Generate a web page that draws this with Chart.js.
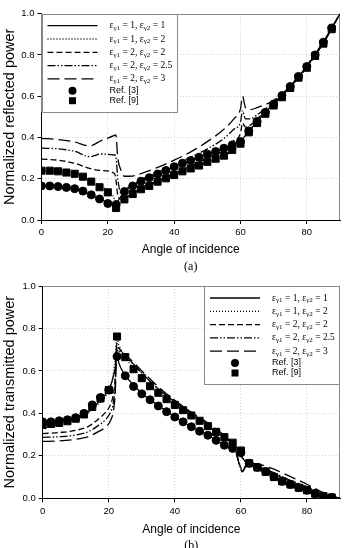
<!DOCTYPE html>
<html>
<head>
<meta charset="utf-8">
<script src="https://cdn.jsdelivr.net/npm/chart.js@4/dist/chart.umd.min.js"></script>
<style>
body{margin:0;background:#fff;width:346px;height:548px;overflow:hidden}
canvas{display:block}
</style>
</head>
<body>
<canvas id="chartA" width="346" height="274"></canvas>
<canvas id="chartB" width="346" height="274"></canvas>
<script>
// legend values for the five computed curves
const eps1 = ['1', '1', '2', '2', '2'];
const eps2 = ['1', '2', '2', '2.5', '3'];
const refNames = ['Ref. [3]', 'Ref. [9]'];
const xTicks = [0, 20, 40, 60, 80];
const yTicks = [0, 0.2, 0.4, 0.6, 0.8, 1.0];

// reference points (every 2.5 deg)
const refAngles = [0,2.5,5,7.5,10,12.5,15,17.5,20,22.5,25,27.5,30,32.5,35,37.5,40,42.5,45,47.5,50,52.5,55,57.5,60,62.5,65,67.5,70,72.5,75,77.5,80,82.5,85,87.5];
const reflRef3 = [0.165,0.165,0.162,0.158,0.152,0.14,0.122,0.102,0.08,0.075,0.138,0.165,0.188,0.205,0.223,0.24,0.258,0.275,0.288,0.304,0.319,0.332,0.348,0.364,0.38,0.432,0.478,0.522,0.562,0.603,0.647,0.696,0.744,0.80,0.862,0.931];
const reflRef9 = [0.239,0.239,0.236,0.23,0.224,0.21,0.186,0.159,0.134,0.058,0.10,0.126,0.149,0.165,0.186,0.202,0.218,0.236,0.25,0.264,0.282,0.297,0.312,0.34,0.37,0.425,0.47,0.515,0.555,0.595,0.64,0.69,0.738,0.795,0.855,0.925];
const transRef3 = [0.36,0.36,0.365,0.37,0.38,0.40,0.44,0.475,0.51,0.668,0.577,0.527,0.492,0.464,0.435,0.408,0.383,0.36,0.337,0.316,0.297,0.273,0.25,0.235,0.215,0.165,0.146,0.126,0.102,0.08,0.065,0.05,0.038,0.022,0.01,0.004];
const transRef9 = [0.345,0.35,0.355,0.363,0.375,0.395,0.43,0.47,0.51,0.762,0.665,0.608,0.566,0.528,0.497,0.467,0.44,0.415,0.39,0.365,0.34,0.313,0.288,0.262,0.225,0.165,0.145,0.125,0.1,0.08,0.065,0.05,0.038,0.022,0.01,0.004];

// computed curves, reflected power
const reflAngles = [0,5,10,14.5,18,22,22.4,23,24,25,27.5,30,35,40,45,50,55,58,60,60.6,61.5,63,65,70,75,80,85,90];
const reflE11 = [0.165,0.162,0.15,0.125,0.098,0.07,0.065,0.09,0.115,0.135,0.163,0.186,0.222,0.258,0.288,0.318,0.348,0.367,0.38,0.392,0.41,0.44,0.478,0.565,0.645,0.745,0.86,1.0];
const reflE12 = [0.239,0.236,0.225,0.195,0.16,0.1,0.06,0.07,0.085,0.1,0.126,0.149,0.186,0.218,0.25,0.28,0.31,0.34,0.37,0.39,0.41,0.44,0.475,0.56,0.64,0.74,0.855,1.0];
const reflE22 = [0.295,0.29,0.275,0.25,0.24,0.225,0.2,0.12,0.1,0.105,0.13,0.155,0.19,0.225,0.262,0.3,0.34,0.385,0.42,0.47,0.45,0.46,0.49,0.565,0.645,0.745,0.86,1.0];
const reflE225 = [0.348,0.345,0.333,0.307,0.32,0.315,0.31,0.2,0.13,0.145,0.17,0.195,0.232,0.268,0.305,0.345,0.395,0.44,0.475,0.53,0.49,0.49,0.51,0.57,0.645,0.745,0.86,1.0];
const reflE23 = [0.396,0.39,0.378,0.359,0.385,0.41,0.413,0.3,0.24,0.212,0.213,0.225,0.255,0.29,0.33,0.38,0.44,0.49,0.54,0.6,0.545,0.535,0.545,0.58,0.65,0.75,0.865,1.0];

// computed curves, transmitted power
const transAngles = [0,5,10,14,17,19,20.5,21.5,22,22.4,23,25,30,35,40,45,50,55,58,60.5,61.5,63,65,70,75,80,85,90];
const transE11 = [0.36,0.365,0.38,0.41,0.455,0.49,0.53,0.58,0.62,0.69,0.64,0.58,0.495,0.437,0.383,0.337,0.297,0.25,0.225,0.19,0.17,0.158,0.146,0.102,0.065,0.038,0.01,0];
const transE12 = [0.345,0.355,0.375,0.405,0.445,0.48,0.52,0.6,0.67,0.755,0.725,0.665,0.566,0.497,0.44,0.39,0.34,0.288,0.25,0.19,0.17,0.158,0.145,0.1,0.065,0.038,0.01,0];
const transE22 = [0.305,0.31,0.32,0.34,0.375,0.405,0.44,0.5,0.58,0.73,0.71,0.675,0.59,0.515,0.455,0.4,0.35,0.29,0.24,0.135,0.15,0.155,0.15,0.115,0.08,0.05,0.015,0];
const transE225 = [0.287,0.29,0.298,0.315,0.345,0.37,0.405,0.46,0.55,0.72,0.7,0.67,0.59,0.515,0.455,0.4,0.35,0.29,0.24,0.128,0.15,0.157,0.153,0.12,0.085,0.055,0.018,0];
const transE23 = [0.268,0.27,0.278,0.292,0.315,0.335,0.365,0.42,0.51,0.7,0.69,0.675,0.6,0.525,0.462,0.405,0.355,0.295,0.245,0.125,0.155,0.165,0.162,0.137,0.102,0.066,0.026,0];

const dashes = [[], [1, 2], [6, 3], [8, 2, 1.5, 2, 1.5, 2], [12, 5]];
const sans = "'Liberation Sans', Arial, sans-serif";
const serif = "'Liberation Serif', 'Times New Roman', serif";

function pairs(xs, ys) {
  return xs.map((x, i) => ({x: x, y: ys[i]}));
}

function buildDatasets(angles, curves, ref3, ref9) {
  const sets = [
    {label: refNames[0], data: pairs(refAngles, ref3), showLine: false, pointStyle: 'circle',
     pointRadius: 4, backgroundColor: '#000', borderColor: '#000', order: 0},
    {label: refNames[1], data: pairs(refAngles, ref9), showLine: false, pointStyle: 'rect',
     pointRadius: 5, backgroundColor: '#000', borderColor: '#000', order: 0}
  ];
  curves.forEach((c, i) => {
    sets.push({
      label: 'εγ1 = ' + eps1[i] + ', εγ2 = ' + eps2[i],
      data: pairs(angles, c), showLine: true, pointRadius: 0,
      borderColor: '#000', borderWidth: 1.3, borderDash: dashes[i],
      cubicInterpolationMode: 'monotone', fill: false, order: 1
    });
  });
  return sets;
}

// white legend box drawn inside the plot
const epsLegend = {
  id: 'epsLegend',
  afterDraw(chart, args, opts) {
    const {ctx, chartArea} = chart;
    const w = 136, h = 99;
    const x0 = opts.side === 'left' ? chartArea.left : chartArea.right - w;
    const y0 = chartArea.top;
    ctx.save();
    ctx.fillStyle = '#fff';
    ctx.fillRect(x0, y0, w, h);
    ctx.strokeStyle = '#8a8a8a';
    ctx.lineWidth = 1;
    ctx.strokeRect(Math.round(x0) + 0.5, Math.round(y0) + 0.5, w - 1, h - 1);
    ctx.textBaseline = 'middle';
    ctx.fillStyle = '#000';
    for (let i = 0; i < eps1.length; i++) {
      const y = y0 + 12 + i * 13.3;
      ctx.beginPath();
      ctx.setLineDash(dashes[i]);
      ctx.strokeStyle = '#000';
      ctx.lineWidth = 1.3;
      ctx.moveTo(x0 + 6, y);
      ctx.lineTo(x0 + 56, y);
      ctx.stroke();
      ctx.setLineDash([]);
      let x = x0 + 68;
      const parts = [['ε', 0], ['γ1', 1], [' = ' + eps1[i] + ', ', 0], ['ε', 0], ['γ2', 1], [' = ' + eps2[i], 0]];
      parts.forEach(p => {
        ctx.font = (p[1] ? '7px ' : '9.5px ') + serif;
        ctx.fillText(p[0], x, y + (p[1] ? 2.5 : 0));
        x += ctx.measureText(p[0]).width;
      });
    }
    const my = [y0 + 77, y0 + 87];
    ctx.beginPath();
    ctx.arc(x0 + 31, my[0], 4, 0, Math.PI * 2);
    ctx.fill();
    ctx.fillRect(x0 + 27.5, my[1] - 3.5, 7, 7);
    ctx.font = '9px ' + sans;
    ctx.fillText(refNames[0], x0 + 68, my[0]);
    ctx.fillText(refNames[1], x0 + 68, my[1]);
    ctx.restore();
  }
};

// light frame on top/right, and the (a)/(b) caption
const frameCaption = {
  id: 'frameCaption',
  beforeDatasetsDraw(chart) {
    const {ctx, chartArea: a} = chart;
    ctx.save();
    ctx.strokeStyle = '#8a8a8a';
    ctx.lineWidth = 1;
    ctx.beginPath();
    ctx.moveTo(a.left, Math.round(a.top) + 0.5);
    ctx.lineTo(Math.round(a.right) - 0.5, Math.round(a.top) + 0.5);
    ctx.lineTo(Math.round(a.right) - 0.5, a.bottom);
    ctx.stroke();
    ctx.restore();
  },
  afterDraw(chart, args, opts) {
    const {ctx, chartArea: a} = chart;
    ctx.save();
    ctx.fillStyle = '#000';
    ctx.font = '12px ' + serif;
    ctx.textAlign = 'center';
    ctx.textBaseline = 'middle';
    ctx.fillText(opts.text, (a.left + a.right) / 2, opts.y);
    ctx.restore();
  }
};

function makeChart(id, yTitle, angles, curves, ref3, ref9, lay) {
  const gridColor = c => (c.tick && (c.tick.value === 0 || c.tick.value === 1)) ? 'rgba(0,0,0,0)' : '#d2d2d2';
  return new Chart(document.getElementById(id), {
    type: 'scatter',
    data: {datasets: buildDatasets(angles, curves, ref3, ref9)},
    plugins: [frameCaption, epsLegend],
    options: {
      responsive: false,
      animation: false,
      layout: {padding: {top: lay.top, right: lay.right, bottom: lay.bottom, left: 0}},
      plugins: {
        legend: {display: false},
        tooltip: {enabled: false},
        epsLegend: {side: lay.side},
        frameCaption: {text: lay.caption, y: lay.capY}
      },
      scales: {
        x: {
          type: 'linear', min: 0, max: 90,
          afterBuildTicks: ax => { ax.ticks = xTicks.map(v => ({value: v})); },
          afterFit: ax => { ax.height = lay.xh; },
          ticks: {font: {family: sans, size: 9.5}, color: '#000', padding: 3, maxRotation: 0},
          grid: {color: gridColor, lineWidth: 1, tickColor: '#000', tickLength: 4},
          border: {color: '#000', width: 1, dash: [1, 2]},
          title: {display: true, text: 'Angle of incidence', color: '#000',
                  font: {family: sans, size: 12}, padding: 0}
        },
        y: {
          min: 0, max: 1,
          afterBuildTicks: ax => { ax.ticks = yTicks.map(v => ({value: v})); },
          afterFit: ax => { ax.width = lay.yw; },
          ticks: {font: {family: sans, size: 9.5}, color: '#000', padding: 3,
                  callback: v => Number(v).toFixed(1)},
          grid: {color: gridColor, lineWidth: 1, tickColor: '#000', tickLength: 4},
          border: {color: '#000', width: 1, dash: [1, 2]},
          title: {display: true, text: yTitle, color: '#000',
                  font: {family: sans, size: 14.5}, padding: {top: 1, bottom: 0}}
        }
      }
    }
  });
}

makeChart('chartA', 'Normalized reflected power', reflAngles,
  [reflE11, reflE12, reflE22, reflE225, reflE23], reflRef3, reflRef9,
  {top: 13.7, right: 5, bottom: 17, xh: 37, yw: 41.5, side: 'left', caption: '(a)', capY: 267});

makeChart('chartB', 'Normalized transmitted power', transAngles,
  [transE11, transE12, transE22, transE225, transE23], transRef3, transRef9,
  {top: 12, right: 3.5, bottom: 10.7, xh: 39, yw: 42.7, side: 'right', caption: '(b)', capY: 272});
</script>
</body>
</html>
